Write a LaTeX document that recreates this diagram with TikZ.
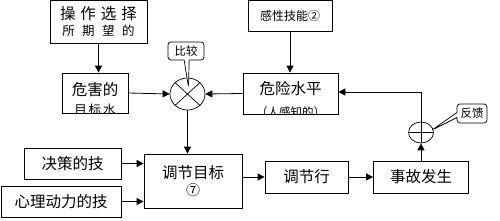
\documentclass[tikz,border=0pt]{standalone}
\usepackage{fontspec}
\setmainfont{Noto Sans CJK SC}
\usetikzlibrary{arrows.meta,shapes.geometric,shapes.callouts}

\begin{document}
\begin{tikzpicture}[x=1pt,y=1pt,
    box/.style={draw,fill=white,line width=0.8pt,inner sep=1pt,align=center,font=\fontsize{15.5}{18}\selectfont},
    arr/.style={-{Triangle[length=7pt,width=7pt]},line width=0.8pt},
    mix/.style={draw,ellipse,line width=0.7pt,inner sep=0pt},
    tip/.style={draw,fill=white,rectangle callout,rounded corners=3pt,line width=0.7pt,
      callout pointer width=5pt,inner sep=2pt,font=\fontsize{11.5}{12}\selectfont}]
        \useasboundingbox (0,0) rectangle (500,220);
        % upper row
        \node[box,minimum width=97pt,minimum height=43pt] (choose) at (98.5,198.5)
          {操\hspace{5pt}作\hspace{5pt}选\hspace{5pt}择\\[-2pt]{\fontsize{12.5}{13}\selectfont 所\hspace{7.5pt}期\hspace{7.5pt}望\hspace{7.5pt}的}};
        \node[box,minimum width=84pt,minimum height=31pt,font=\fontsize{12}{13}\selectfont] (sense) at (290,204.5) {感性技能②};
        \node[box,minimum width=66pt,minimum height=40pt] (hazard) at (95,127) {};
        \begin{scope}
          \clip (hazard.south west) rectangle (hazard.north east);
          \node[anchor=north,align=center,inner sep=0pt,font=\fontsize{15.5}{18}\selectfont] (hazardtext)
            at ([yshift=-9.5pt]hazard.north) {危害的\\[1pt]{\fontsize{12.5}{13}\selectfont 目\hspace{2pt}标\hspace{2pt}水}};
        \end{scope}
        \node[mix,minimum width=35pt,minimum height=32pt] (cmp) at (187.5,126) {};
        \draw[line width=0.7pt] (cmp.north west) -- (cmp.south east) (cmp.north east) -- (cmp.south west);
        \node[box,minimum width=95pt,minimum height=41pt] (danger) at (290.5,126.5) {};
        \begin{scope}
          \clip (danger.south west) rectangle (danger.north east);
          \node[anchor=north,align=center,inner sep=0pt,font=\fontsize{15.5}{18}\selectfont] (dangertext)
            at ([yshift=-9pt]danger.north) {危险水平\\[4pt]{\fontsize{11.5}{13}\selectfont （人感知的）}};
        \end{scope}
        \node[tip,minimum width=36pt,minimum height=18pt,callout absolute pointer={(188.5,133)}] (cmptip) at (186,169) {比较};
        % lower row
        \node[box,minimum width=97pt,minimum height=31pt] (decide) at (72.5,56.5) {决策的技};
        \node[box,minimum width=120pt,minimum height=31pt] (psych) at (61,18.5) {心理动力的技};
        \node[box,minimum width=98pt,minimum height=54pt] (goal) at (193,39) {调节目标\\[-1pt]{\fontsize{14}{15}\selectfont ⑦}};
        \node[box,minimum width=83pt,minimum height=32pt] (act) at (306.5,43) {调节行};
        \node[box,minimum width=95pt,minimum height=32pt] (accident) at (421,43) {事故发生};
        \node[mix,minimum width=25pt,minimum height=21pt] (fb) at (421,87.5) {};
        \draw[line width=0.7pt] (fb.north) -- (fb.south) (fb.west) -- (fb.east);
        \node[tip,minimum width=30pt,minimum height=19pt,callout absolute pointer={(432,90)}] (fbtip) at (472,106.5) {反馈};
        % connectors
        \draw[arr] (choose.south) -- (choose.south |- hazard.north);
        \draw[arr] (sense.south) -- (sense.south |- danger.north);
        \draw[arr] (hazard.east) -- (cmp.west);
        \draw[arr] (danger.west) -- (cmp.east);
        \draw[arr] (cmp.south) -- (cmp.south |- goal.north);
        \draw[arr] (decide.east) -- (decide.east -| goal.west);
        \draw[arr] (psych.east) -- (psych.east -| goal.west);
        \draw[arr] (act.west -| goal.east) -- (act.west);
        \draw[arr] (act.east) -- (accident.west);
        \draw[arr] (accident.north) -- (fb.south);
        \draw[arr] (fb.north) |- ([yshift=1.5pt]danger.east);
      \end{tikzpicture}
\end{document}
